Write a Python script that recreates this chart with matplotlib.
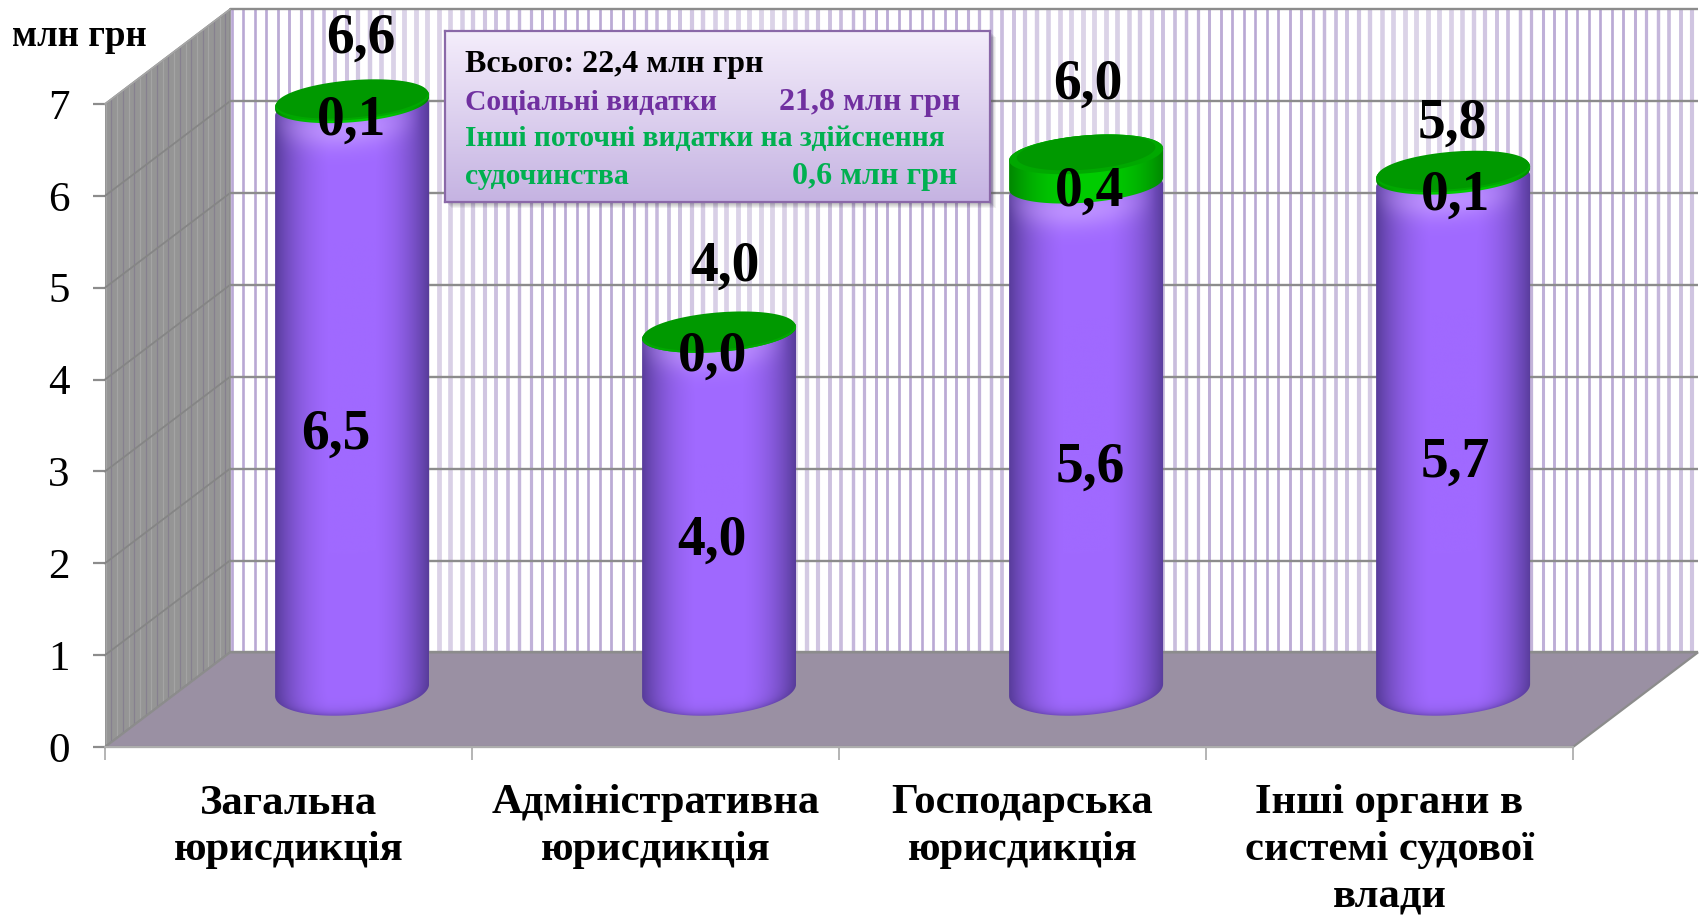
import numpy as np
import matplotlib
matplotlib.use('Agg')
import matplotlib.pyplot as plt
from matplotlib.patches import Polygon, Rectangle
from matplotlib.collections import LineCollection

plt.rcParams['font.family'] = ['Liberation Serif', 'DejaVu Serif']

# Дані
categories = ['Загальна\nюрисдикція', 'Адміністративна\nюрисдикція',
              'Господарська\nюрисдикція', 'Інші органи в\nсистемі судової\nвлади']
social = [6.5, 4.0, 5.6, 5.7]
other = [0.1, 0.0, 0.4, 0.1]
totals = [6.6, 4.0, 6.0, 5.8]
y_ticks = [0, 1, 2, 3, 4, 5, 6, 7]

# Геометрія "3D" (одиниці осей)
DX = 125 / 367
DY = 1.03
BAR_R = 77 / 367
BASE_Y = 0.62
SCALE = 0.972
B_TOP = 19 / 91.9
B_BASE = 25 / 91.9
TILT = 6 / 91.9
DISC_GAP = 0.07
# зсуви підписів у пікселях
total_off = [(9, 62), (6, 66), (2, 70), (-1, 48)]
other_off = [(-1, -15), (-7, -24), (3, -20), (2, -19)]
social_off = [(-16, -35), (-7, -29), (4, -28), (2, -27)]

PURPLE = np.array([160, 105, 255]) / 255
PURPLE_DARK = np.array([88, 60, 155]) / 255
GREEN = np.array([0, 205, 0]) / 255
GREEN_DARK = np.array([0, 135, 0]) / 255


def ellipse(cx, cy, b, t, k=1.0):
    return cx + k * BAR_R * np.cos(t), cy + b * np.sin(t) + TILT * np.cos(t)


def clip_image(ax, img, extent, verts, z):
    patch = Polygon(verts, closed=True, fc='none', ec='none', zorder=z, clip_on=False)
    ax.add_patch(patch)
    im = ax.imshow(img, extent=extent, origin='lower', aspect='auto',
                   interpolation='bilinear', zorder=z)
    im.set_clip_path(patch)
    im.set_clip_box(fig.bbox)
    return im


def draw_body(ax, cx, y_top, z=4):
    t_low = np.linspace(np.pi, 2 * np.pi, 80)
    t_up = np.linspace(0, np.pi, 80)
    xb, yb = ellipse(cx, BASE_Y, B_BASE, t_low)
    xt, yt = ellipse(cx, y_top, B_TOP, t_up)
    verts = np.column_stack([np.r_[xb, xt], np.r_[yb, yt]])

    y0, y1 = BASE_Y - 0.4, y_top + 0.4
    uu, vv = np.meshgrid(np.linspace(-1, 1, 160), np.linspace(y0, y1, 500))
    sq = np.sqrt(np.clip(1 - uu**2, 0, 1))
    bottom = BASE_Y - B_BASE * sq + TILT * uu
    top_low = y_top - B_TOP * sq + TILT * uu
    f = np.clip(1.05 * (1 - np.abs(uu)**2.6), 0, 1)
    # затемнення внизу
    f = f * (1 - 0.6 * np.exp(-np.clip(vv - bottom, 0, None) / 0.05))
    img = PURPLE_DARK + (PURPLE - PURPLE_DARK) * f[..., None]
    # світла смуга під верхом
    d = top_low - vv
    glow = np.exp(-(d / 0.2)**2) * (1 - (uu + 0.1)**2).clip(0, 1) * 0.5
    img = img + (np.array([0.85, 0.72, 1.0]) - img) * glow[..., None]
    clip_image(ax, np.clip(img, 0, 1), (cx - BAR_R, cx + BAR_R, y0, y1), verts, z)


def draw_disc(ax, cx, y_low, y_high, z=5):
    y_low = min(y_low + DISC_GAP, y_high)
    thick = y_high - y_low > 0.15
    t_low = np.linspace(np.pi, 2 * np.pi, 80)
    t_up = np.linspace(0, np.pi, 80)
    xb, yb = ellipse(cx, y_low, B_TOP, t_low)
    xt, yt = ellipse(cx, y_high, B_TOP, t_up)
    verts = np.column_stack([np.r_[xb, xt], np.r_[yb, yt]])
    y0, y1 = y_low - 0.4, y_high + 0.4
    uu, vv = np.meshgrid(np.linspace(-1, 1, 160), np.linspace(y0, y1, 200))
    f = np.clip(1 - np.abs(uu)**2.5, 0, 1)
    img = GREEN_DARK + (GREEN - GREEN_DARK) * f[..., None]
    clip_image(ax, img, (cx - BAR_R, cx + BAR_R, y0, y1), verts, z)
    # верхня грань
    t = np.linspace(0, 2 * np.pi, 160)
    xe, ye = ellipse(cx, y_high, B_TOP, t)
    ax.add_patch(Polygon(np.column_stack([xe, ye]), closed=True, fc='#00a800', ec='none',
                         zorder=z + 0.1, clip_on=False))
    q = 0.9 if thick else 0.985
    xe2, ye2 = cx + (xe - cx) * q, y_high + 0.02 + (ye - y_high) * q
    ax.add_patch(Polygon(np.column_stack([xe2, ye2]), closed=True, fc='#009900', ec='none',
                         zorder=z + 0.2, clip_on=False))


fig = plt.figure(figsize=(17, 9.16), dpi=100)
ax = fig.add_axes([105 / 1700, 1 - 747 / 916, (1573 - 105) / 1700, (747 - 104) / 916])
ax.set_facecolor('none')

# задня стінка
top = 7 + DY
back = np.array([[DX, DY], [4 + DX, DY], [4 + DX, top], [DX, top]])
back_patch = Polygon(back, closed=True, fc='white', ec='none', zorder=1, clip_on=False)
ax.add_patch(back_patch)
stripe_x = np.arange(DX + 0.0045, 4 + DX, 11.5 / 367)
blur = 0.5 - 0.5 * np.cos(2 * np.pi * (stripe_x * 367 + 105 - 1590) / 335)
sharp_c, soft_c = np.array([185, 168, 212]) / 255, np.array([220, 212, 232]) / 255
lc = LineCollection([[(x, DY), (x, top)] for x in stripe_x],
                    colors=sharp_c + (soft_c - sharp_c) * blur[:, None],
                    linewidths=1.9 + 1.6 * blur, zorder=1.1)
ax.add_collection(lc)
lc.set_clip_path(back_patch)
lc.set_clip_box(fig.bbox)
ax.hlines([v + DY for v in y_ticks], DX, 4 + DX, colors='#8c8c8c', linewidths=1.7, zorder=1.3, clip_on=False)

# бічна стінка
side = np.array([[0, 0], [DX, DY], [DX, top], [0, 7]])
side_patch = Polygon(side, closed=True, fc='#959595', ec='none', zorder=1.4, clip_on=False)
ax.add_patch(side_patch)
side_x = np.arange(0.002, DX, 5.7 / 367)
side_lines = [[(x, 0), (x, top)] for x in side_x]
side_colors = ['#86808f' if n % 2 else '#a4a4a4' for n in range(len(side_x))]
lc2 = LineCollection(side_lines, colors=side_colors, linewidths=0.9, zorder=1.5)
ax.add_collection(lc2)
lc2.set_clip_path(side_patch)
lc2.set_clip_box(fig.bbox)
for v in y_ticks:
    ax.plot([0, DX], [v, v + DY], color='#858585', lw=1.3, zorder=1.6, clip_on=False)
ax.plot([DX, DX], [DY, top], color='#8c8c8c', lw=1.2, zorder=1.6, clip_on=False)
ax.plot([0, DX], [7, top], color='#a6a6a6', lw=1.2, zorder=1.6, clip_on=False)

# підлога
floor = np.array([[0, 0], [4, 0], [4 + DX, DY], [DX, DY]])
ax.add_patch(Polygon(floor, closed=True, fc='#9a90a3', ec='#8c8c8c', lw=1.6, zorder=2,
                     clip_on=False, joinstyle='miter'))

# циліндри
for i in range(4):
    cx = i + 0.5 + DX / 2 + 0.003
    y_s = BASE_Y + social[i] * SCALE
    y_t = BASE_Y + totals[i] * SCALE
    draw_body(ax, cx, y_s)
    draw_disc(ax, cx, y_s, y_t)
    kw = dict(ha='center', va='center', fontsize=40, fontweight='bold', color='black',
              textcoords='offset pixels', zorder=10, annotation_clip=False)
    ax.annotate(f'{totals[i]:.1f}'.replace('.', ','), (cx, y_t), xytext=total_off[i], **kw)
    y_mid = (y_s + y_t) / 2
    ax.annotate(f'{other[i]:.1f}'.replace('.', ','), (cx, y_mid), xytext=other_off[i], **kw)
    ax.annotate(f'{social[i]:.1f}'.replace('.', ','), (cx, (BASE_Y + y_s) / 2), xytext=social_off[i], **kw)

ax.set_xlim(0, 4)
ax.set_ylim(0, 7)
for s in ('top', 'right', 'left'):
    ax.spines[s].set_visible(False)
ax.spines['bottom'].set_color('#b4b4b4')
ax.spines['bottom'].set_linewidth(1.2)
ax.spines['bottom'].set_zorder(3)
ax.set_yticks(y_ticks)
ax.tick_params(axis='y', length=8.5, width=1.6, color='#8c8c8c', labelsize=31, pad=17)
ax.set_xticks(range(5))
ax.set_xticklabels([])
ax.tick_params(axis='x', which='major', length=9.5, width=1.2, color='#a8a8a8')
ax.set_xticks(np.arange(4) + 0.5, categories, minor=True)
ax.tick_params(axis='x', which='minor', length=0, pad=27, labelsize=30.7)
for lab in ax.get_xticklabels(minor=True):
    lab.set_fontweight('bold')
    lab.set_linespacing(1.31)

fig.text(12 / 1700, 1 - 37 / 916, 'млн грн', fontsize=26.5, fontweight='bold', va='center', ha='left')

# тінь під рамкою
BOX_L, BOX_T, BOX_W, BOX_H = 445, 31, 545, 171
for k in range(1, 7):
    fig.add_artist(Rectangle(((BOX_L + k) / 1700, 1 - (BOX_T + BOX_H + k) / 916),
                             BOX_W / 1700, BOX_H / 916, transform=fig.transFigure,
                             fc='black', ec='none', alpha=0.05, zorder=20))

# рамка з підсумками
box = fig.add_axes([BOX_L / 1700, 1 - (BOX_T + BOX_H) / 916, BOX_W / 1700, BOX_H / 916], zorder=30)
grad = np.linspace(0, 1, 100)[:, None, None]
c1, c2 = np.array([244, 237, 251]) / 255, np.array([197, 179, 226]) / 255
box.imshow(c1 + (c2 - c1) * grad, extent=(0, BOX_W, BOX_H, 0), aspect='auto', interpolation='bilinear')
box.set_xticks([])
box.set_yticks([])
for s in box.spines.values():
    s.set_color('#8a68a8')
    s.set_linewidth(1.6)
TXT = dict(fontsize=21.3, fontweight='bold', va='baseline', ha='left')
NUM = dict(fontsize=23, fontweight='bold', va='baseline', ha='left')
box.text(20, 41, 'Всього: 22,4 млн грн', color='black', **NUM)
box.text(20, 79, 'Соціальні видатки', color='#7030a0', **TXT)
box.text(334, 79, '21,8 млн грн', color='#7030a0', **NUM)
box.text(20, 115, 'Інші поточні видатки на здійснення', color='#00b050', **TXT)
box.text(20, 153, 'судочинства', color='#00b050', **TXT)
box.text(347, 153, '0,6 млн грн', color='#00b050', **NUM)

fig.savefig('out.png', dpi=100)
